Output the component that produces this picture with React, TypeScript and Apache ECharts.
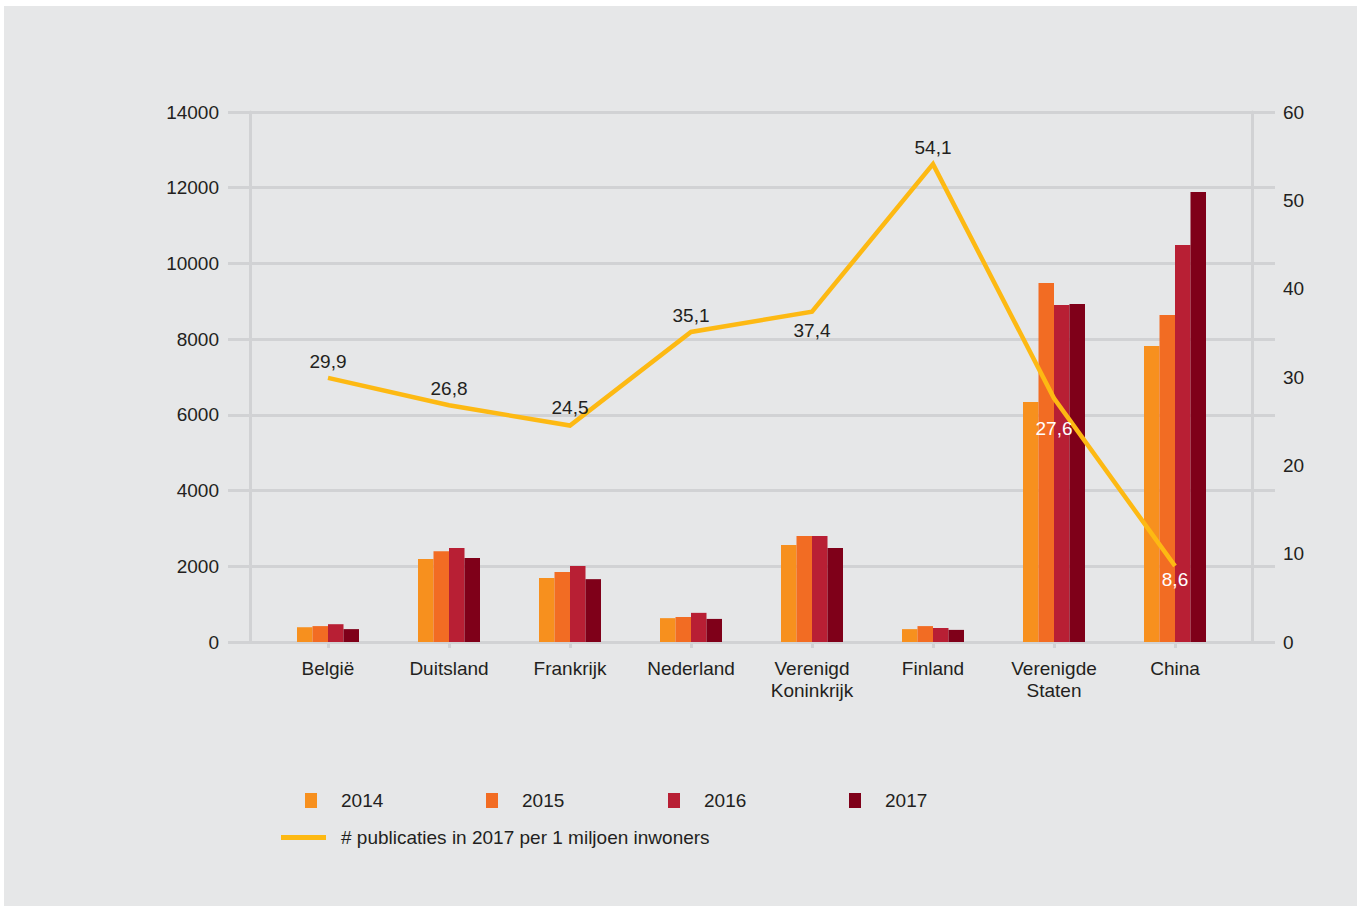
import React, { useEffect, useRef } from "react";
import * as echarts from "echarts";

// Countries on the category axis
const countries = [
  "België",
  "Duitsland",
  "Frankrijk",
  "Nederland",
  "Verenigd\nKoninkrijk",
  "Finland",
  "Verenigde\nStaten",
  "China",
];

// Publication counts per year
const years = ["2014", "2015", "2016", "2017"];
const pub2014 = [390, 2190, 1690, 630, 2560, 340, 6340, 7820];
const pub2015 = [420, 2400, 1850, 660, 2800, 420, 9480, 8640];
const pub2016 = [470, 2480, 2010, 770, 2800, 370, 8900, 10490];
const pub2017 = [340, 2220, 1660, 610, 2480, 320, 8930, 11890];

// Publications in 2017 per million inhabitants
const perMillion = [29.9, 26.8, 24.5, 35.1, 37.4, 54.1, 27.6, 8.6];
// Where each value label sits relative to its point
const perMillionLabelPos = ["top", "top", "top", "top", "bottom", "top", "bottom", "bottom"];
const perMillionLabelWhite = [false, false, false, false, false, false, true, true];

const lineName = "# publicaties in 2017 per 1 miljoen inwoners";

const barColors = ["#f7901e", "#f26c23", "#b81f34", "#7f0019"];
const lineColor = "#fdb913";
const gridColor = "#d1d2d4";
const textColor = "#231f20";
const fontFamily = "'Liberation Sans', Arial, Helvetica, sans-serif";
const fontSize = 19;

export default function App() {
  const ref = useRef<HTMLDivElement>(null);

  useEffect(() => {
    if (!ref.current) return;
    const chart = echarts.init(ref.current, undefined, { renderer: "svg" });

    const barData = [pub2014, pub2015, pub2016, pub2017];

    const barSeries = years.map((y, i) => ({
      name: y,
      type: "bar",
      xAxisIndex: 1,
      yAxisIndex: 1,
      barWidth: 15.5,
      barGap: "0%",
      itemStyle: { color: barColors[i] },
      data: barData[i],
      z: 2,
    }));

    const lineSeries = {
      name: lineName,
      type: "line",
      xAxisIndex: 1,
      yAxisIndex: 2,
      showSymbol: true,
      symbol: "circle",
      symbolSize: 0.01,
      color: lineColor,
      itemStyle: { color: lineColor },
      lineStyle: { color: lineColor, width: 4.5, join: "miter" },
      z: 5,
      data: perMillion.map((v, i) => {
        const pos = perMillionLabelPos[i];
        const white = perMillionLabelWhite[i];
        let distance = pos === "top" ? 7 : 9;
        if (i === 2) distance = 9;
        if (i === 6) distance = 21;
        if (i === 7) distance = 4;
        return {
          value: v,
          label: {
            show: true,
            position: pos,
            distance,
            color: white ? "#ffffff" : textColor,
            fontSize,
            fontFamily,
            formatter: () => v.toFixed(1).replace(".", ","),
          },
        };
      }),
    };

    const legendBase = {
      orient: "horizontal",
      padding: 0,
      icon: "rect",
      itemWidth: 12,
      itemHeight: 15,
      textStyle: {
        color: textColor,
        fontSize,
        fontFamily,
        padding: [0, 0, 0, 19],
      },
    };

    const legendLefts = [305, 486, 668, 849];

    const option = {
      animation: false,
      graphic: [
        {
          type: "rect",
          z: -10,
          silent: true,
          shape: { x: 4, y: 6, width: 1353, height: 900 },
          style: { fill: "#e6e7e8" },
        },
      ],
      legend: [
        ...years.map((y, i) => ({
          ...legendBase,
          left: legendLefts[i],
          top: 791,
          data: [y],
        })),
        {
          ...legendBase,
          left: 281,
          top: 828,
          itemWidth: 45,
          itemHeight: 5,
          textStyle: { ...legendBase.textStyle, padding: [0, 0, 0, 10] },
          data: [lineName],
        },
      ],
      grid: [
        // Background grid that carries the horizontal gridlines
        { left: 228, right: 85, top: 112, bottom: 267 },
        // Data grid
        { left: 267.5, right: 124.5, top: 112, bottom: 267 },
      ],
      xAxis: [
        {
          type: "value",
          gridIndex: 0,
          show: false,
          min: 0,
          max: 1,
        },
        {
          type: "category",
          gridIndex: 1,
          data: countries,
          boundaryGap: true,
          axisLine: { show: false },
          axisTick: {
            show: true,
            alignWithLabel: true,
            length: 6,
            lineStyle: { color: gridColor, width: 3 },
          },
          axisLabel: {
            color: textColor,
            fontSize,
            fontFamily,
            lineHeight: 22,
            margin: 15,
          },
        },
      ],
      yAxis: [
        {
          type: "value",
          gridIndex: 0,
          min: 0,
          max: 14000,
          interval: 2000,
          axisLine: { show: false },
          axisTick: { show: false },
          axisLabel: { show: false },
          splitLine: { show: true, lineStyle: { color: gridColor, width: 3 } },
        },
        {
          type: "value",
          gridIndex: 1,
          position: "left",
          offset: 17.5,
          min: 0,
          max: 14000,
          interval: 2000,
          axisLine: { show: true, lineStyle: { color: gridColor, width: 3 } },
          axisTick: { show: false },
          splitLine: { show: false },
          axisLabel: {
            color: textColor,
            fontSize,
            fontFamily,
            margin: 31,
            formatter: (v: number) => String(v),
          },
        },
        {
          type: "value",
          gridIndex: 1,
          position: "right",
          offset: 16.5,
          min: 0,
          max: 60,
          interval: 10,
          axisLine: { show: true, lineStyle: { color: gridColor, width: 3 } },
          axisTick: { show: false },
          splitLine: { show: false },
          axisLabel: {
            color: textColor,
            fontSize,
            fontFamily,
            margin: 31,
            formatter: (v: number) => String(v),
          },
        },
      ],
      series: [...barSeries, lineSeries],
    };

    chart.setOption(option as any);
    return () => chart.dispose();
  }, []);

  return (
    <div
      ref={ref}
      style={{
        position: "fixed",
        left: 0,
        top: 0,
        width: 1360,
        height: 909,
        background: "#ffffff",
      }}
    />
  );
}
